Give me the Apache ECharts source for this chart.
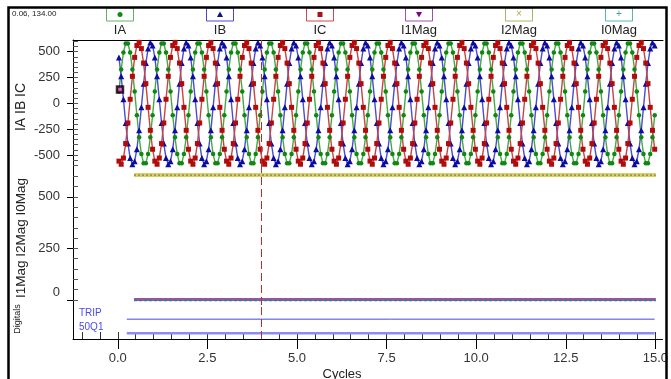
<!DOCTYPE html>
<html>
<head>
<meta charset="utf-8">
<script src="https://cdn.jsdelivr.net/npm/echarts@6/dist/echarts.min.js"></script>
<style>
html, body { margin: 0; padding: 0; background: #fff; }
#chart { width: 671px; height: 379px; }
</style>
</head>
<body>
<div id="chart"></div>
<script>
// 16 samples per cycle, first sample half a sample after t = 0
var SAMPLES_PER_CYCLE = 16;
var SAMPLE_OFFSET = 0.5;

// one row = one cycle
var IA = [
  115,328,491,579,579,491,328,115,-115,-328,-491,-579,-579,-491,-328,-115,
  115,328,491,579,579,491,328,115,-115,-328,-491,-579,-579,-491,-328,-115,
  115,328,491,579,579,491,328,115,-115,-328,-491,-579,-579,-491,-328,-115,
  115,328,491,579,579,491,328,115,-115,-328,-491,-579,-579,-491,-328,-115,
  115,328,491,579,579,491,328,115,-115,-328,-491,-579,-579,-491,-328,-115,
  115,328,491,579,579,491,328,115,-115,-328,-491,-579,-579,-491,-328,-115,
  115,328,491,579,579,491,328,115,-115,-328,-491,-579,-579,-491,-328,-115,
  115,328,491,579,579,491,328,115,-115,-328,-491,-579,-579,-491,-328,-115,
  115,328,491,579,579,491,328,115,-115,-328,-491,-579,-579,-491,-328,-115,
  115,328,491,579,579,491,328,115,-115,-328,-491,-579,-579,-491,-328,-115,
  115,328,491,579,579,491,328,115,-115,-328,-491,-579,-579,-491,-328,-115,
  115,328,491,579,579,491,328,115,-115,-328,-491,-579,-579,-491,-328,-115,
  115,328,491,579,579,491,328,115,-115,-328,-491,-579,-579,-491,-328,-115,
  115,328,491,579,579,491,328,115,-115,-328,-491,-579,-579,-491,-328,-115,
  115,328,491,579,579,491,328,115,-115,-328,-491,-579,-579,-491,-328,-115
];
var IB = [
  444,261,39,-190,-389,-529,-589,-559,-444,-261,-39,190,389,529,589,559,
  444,261,39,-190,-389,-529,-589,-559,-444,-261,-39,190,389,529,589,559,
  444,261,39,-190,-389,-529,-589,-559,-444,-261,-39,190,389,529,589,559,
  444,261,39,-190,-389,-529,-589,-559,-444,-261,-39,190,389,529,589,559,
  444,261,39,-190,-389,-529,-589,-559,-444,-261,-39,190,389,529,589,559,
  444,261,39,-190,-389,-529,-589,-559,-444,-261,-39,190,389,529,589,559,
  444,261,39,-190,-389,-529,-589,-559,-444,-261,-39,190,389,529,589,559,
  444,261,39,-190,-389,-529,-589,-559,-444,-261,-39,190,389,529,589,559,
  444,261,39,-190,-389,-529,-589,-559,-444,-261,-39,190,389,529,589,559,
  444,261,39,-190,-389,-529,-589,-559,-444,-261,-39,190,389,529,589,559,
  444,261,39,-190,-389,-529,-589,-559,-444,-261,-39,190,389,529,589,559,
  444,261,39,-190,-389,-529,-589,-559,-444,-261,-39,190,389,529,589,559,
  444,261,39,-190,-389,-529,-589,-559,-444,-261,-39,190,389,529,589,559,
  444,261,39,-190,-389,-529,-589,-559,-444,-261,-39,190,389,529,589,559,
  444,261,39,-190,-389,-529,-589,-559,-444,-261,-39,190,389,529,589,559
];
var IC = [
  -559,-589,-529,-389,-190,39,261,444,559,589,529,389,190,-39,-261,-444,
  -559,-589,-529,-389,-190,39,261,444,559,589,529,389,190,-39,-261,-444,
  -559,-589,-529,-389,-190,39,261,444,559,589,529,389,190,-39,-261,-444,
  -559,-589,-529,-389,-190,39,261,444,559,589,529,389,190,-39,-261,-444,
  -559,-589,-529,-389,-190,39,261,444,559,589,529,389,190,-39,-261,-444,
  -559,-589,-529,-389,-190,39,261,444,559,589,529,389,190,-39,-261,-444,
  -559,-589,-529,-389,-190,39,261,444,559,589,529,389,190,-39,-261,-444,
  -559,-589,-529,-389,-190,39,261,444,559,589,529,389,190,-39,-261,-444,
  -559,-589,-529,-389,-190,39,261,444,559,589,529,389,190,-39,-261,-444,
  -559,-589,-529,-389,-190,39,261,444,559,589,529,389,190,-39,-261,-444,
  -559,-589,-529,-389,-190,39,261,444,559,589,529,389,190,-39,-261,-444,
  -559,-589,-529,-389,-190,39,261,444,559,589,529,389,190,-39,-261,-444,
  -559,-589,-529,-389,-190,39,261,444,559,589,529,389,190,-39,-261,-444,
  -559,-589,-529,-389,-190,39,261,444,559,589,529,389,190,-39,-261,-444,
  -559,-589,-529,-389,-190,39,261,444,559,589,529,389,190,-39,-261,-444
];

// magnitudes (start / end)
var MAG_T = [0.45, 15.0];
var I1MAG = [3, 3];
var I2MAG = [605, 605];
var I0MAG = [-2, -2];

// digitals, both low for the whole record
var DIG_T = [0.25, 14.98];
var TRIP = [0, 0];
var Q50 = [0, 0];
var DIG_NAMES = ['TRIP', '50Q1'];

var CURSOR_T = 4.0;
var CURSOR_PT = [0.06, 134];

var X_TICKS = [0, 2.5, 5, 7.5, 10, 12.5, 15];
var X_MINOR = [-1,-0.5,0,0.5,1,1.5,2,2.5,3,3.5,4,4.5,5,5.5,6,6.5,7,7.5,8,8.5,9,9.5,10,10.5,11,11.5,12,12.5,13,13.5,14,14.5,15];
var TOP_TICKS = [-500, -250, 0, 250, 500];
var TOP_MINOR = [-600,-550,-500,-450,-400,-350,-300,-250,-200,-150,-100,-50,0,50,100,150,200,250,300,350,400,450,500,550,600];
var MAG_TICKS = [0, 250, 500];
var MAG_MINOR = [0,50,100,150,200,250,300,350,400,450,500,550,600,650];

var FONT = '"Liberation Sans", Arial, sans-serif';

function withTime(values) {
  return values.map(function (v, i) {
    return [(i + SAMPLE_OFFSET) / SAMPLES_PER_CYCLE, v];
  });
}
function pairs(ts, vs) {
  return ts.map(function (t, i) { return [t, vs[i]]; });
}
// digital rows: each channel gets its own baseline
function digRow(ts, vs, row) {
  return ts.map(function (t, i) { return [t, row + vs[i] * 0.8]; });
}

var XMIN = -1.25, XMAX = 15.2;

var myChart = echarts.init(document.getElementById('chart'));

function xHidden(g) {
  return { gridIndex: g, type: 'value', min: XMIN, max: XMAX, show: false };
}
function yMinor(g, min, max, vals) {
  return {
    gridIndex: g, type: 'value', min: min, max: max, position: 'left',
    axisLine: { show: false, onZero: false },
    axisTick: { show: true, customValues: vals, inside: true, length: 5, lineStyle: { color: '#555' } },
    axisLabel: { show: false }, splitLine: { show: false }
  };
}
function yMajor(g, min, max, vals, fmt) {
  return {
    gridIndex: g, type: 'value', min: min, max: max, position: 'left',
    axisLine: { show: true, onZero: false, lineStyle: { color: '#000', width: 1 } },
    axisTick: { show: true, customValues: vals, length: 6, lineStyle: { color: '#000' } },
    axisLabel: {
      customValues: vals, margin: 13, fontSize: 13, color: '#333', fontFamily: FONT,
      formatter: fmt,
      rich: { z: { fontSize: 13, color: '#333', fontFamily: FONT, padding: [0, 0, 16, 0] } }
    },
    splitLine: { show: false }
  };
}

var cursorLine = {
  silent: true, symbol: ['none', 'none'], label: { show: false },
  lineStyle: { color: '#b03030', type: [8, 4], width: 1 },
  data: [{ xAxis: CURSOR_T }]
};

// legend drawn as boxes with the symbol inside and the name below
var LEG_NAMES = ['IA', 'IB', 'IC', 'I1Mag', 'I2Mag', 'I0Mag'];
var LEG_BOX = ['#5cb85c', '#4a4ac8', '#c84a4a', '#a050a8', '#b4b060', '#5ab4b4'];
var LEG_SYM = ['#128a12', '#10108a', '#b01010', '#800080', '#b0a850', '#40a0a0'];
var LEG_X = [120, 220, 320, 419, 519, 619];

var graphics = [
  { type: 'rect', shape: { x: 8.5, y: 7.5, width: 658, height: 420 }, style: { fill: 'none', stroke: '#000', lineWidth: 2.5 }, z: 100 },
  { type: 'text', x: 12, y: 13.5, style: { text: '0.06, 134.00', fill: '#222', font: '8px ' + FONT, textVerticalAlign: 'middle' } },
  { type: 'text', x: 21, y: 107, rotation: Math.PI / 2, style: { text: 'IA IB IC', fill: '#222', font: '14px ' + FONT, textAlign: 'center', textVerticalAlign: 'middle' } },
  { type: 'text', x: 21, y: 238, rotation: Math.PI / 2, style: { text: 'I1Mag I2Mag I0Mag', fill: '#222', font: '13.5px ' + FONT, textAlign: 'center', textVerticalAlign: 'middle' } },
  { type: 'text', x: 18, y: 319, rotation: Math.PI / 2, style: { text: 'Digitals', fill: '#222', font: '9px ' + FONT, textAlign: 'center', textVerticalAlign: 'middle' } },
  { type: 'text', x: 79, y: 313.5, style: { text: DIG_NAMES[0], fill: '#4a4ae8', font: '10px ' + FONT, textVerticalAlign: 'middle' } },
  { type: 'text', x: 79, y: 327, style: { text: DIG_NAMES[1], fill: '#4a4ae8', font: '10px ' + FONT, textVerticalAlign: 'middle' } },
  { type: 'text', x: 342, y: 374, style: { text: 'Cycles', fill: '#222', font: '13px ' + FONT, textAlign: 'center', textVerticalAlign: 'middle' } }
];
LEG_NAMES.forEach(function (n, i) {
  var cx = LEG_X[i], cy = 14.5, c = LEG_SYM[i], sym;
  graphics.push({ type: 'rect', shape: { x: cx - 13.5, y: 8, width: 27, height: 13 }, style: { fill: '#fff', stroke: LEG_BOX[i], lineWidth: 1 } });
  if (i === 0) sym = { type: 'circle', shape: { cx: cx, cy: cy, r: 2.5 }, style: { fill: c } };
  else if (i === 1) sym = { type: 'polygon', shape: { points: [[cx, cy - 3], [cx + 3, cy + 2.5], [cx - 3, cy + 2.5]] }, style: { fill: c } };
  else if (i === 2) sym = { type: 'rect', shape: { x: cx - 2.5, y: cy - 2.5, width: 5, height: 5 }, style: { fill: c } };
  else if (i === 3) sym = { type: 'polygon', shape: { points: [[cx - 3, cy - 2.5], [cx + 3, cy - 2.5], [cx, cy + 3]] }, style: { fill: c } };
  else if (i === 4) sym = { type: 'text', x: cx, y: cy, style: { text: '×', fill: c, font: '10px ' + FONT, textAlign: 'center', textVerticalAlign: 'middle' } };
  else sym = { type: 'text', x: cx, y: cy, style: { text: '+', fill: c, font: '10px ' + FONT, textAlign: 'center', textVerticalAlign: 'middle' } };
  graphics.push(sym);
  graphics.push({ type: 'text', x: cx, y: 30.5, style: { text: n, fill: '#222', font: '13px ' + FONT, textAlign: 'center', textVerticalAlign: 'middle' } });
});

var option = {
  animation: false,
  grid: [
    { left: 73, right: 8, top: 40, height: 126 },
    { left: 73, right: 8, top: 166, height: 139 },
    { left: 73, right: 8, top: 305, height: 34 }
  ],
  xAxis: [
    {
      gridIndex: 0, type: 'value', min: XMIN, max: XMAX, position: 'top',
      axisLine: { show: true, onZero: false, lineStyle: { color: '#000', width: 1 } },
      axisTick: { show: false }, axisLabel: { show: false }, splitLine: { show: false }
    },
    xHidden(1),
    {
      gridIndex: 2, type: 'value', min: XMIN, max: XMAX, position: 'bottom',
      axisLine: { show: true, onZero: false, lineStyle: { color: '#000', width: 1 } },
      axisTick: { show: true, customValues: X_TICKS, length: 10, lineStyle: { color: '#000' } },
      axisLabel: {
        customValues: X_TICKS, margin: 13, fontSize: 13, color: '#333', fontFamily: FONT,
        formatter: function (v) { return v.toFixed(1); }
      },
      splitLine: { show: false }
    },
    {
      gridIndex: 2, type: 'value', min: XMIN, max: XMAX, position: 'bottom',
      axisLine: { show: false, onZero: false },
      axisTick: { show: true, customValues: X_MINOR, inside: true, length: 7, lineStyle: { color: '#333' } },
      axisLabel: { show: false }, splitLine: { show: false }
    }
  ],
  yAxis: [
    yMajor(0, -606, 612, TOP_TICKS),
    yMinor(0, -606, 612, TOP_MINOR),
    yMajor(1, -24, 649, MAG_TICKS, function (v) { return v === 0 ? '{z|0}' : String(v); }),
    yMinor(1, -24, 649, MAG_MINOR),
    {
      gridIndex: 2, type: 'value', min: -0.4, max: 2.0, position: 'left',
      axisLine: { show: true, onZero: false, lineStyle: { color: '#000', width: 1 } },
      axisTick: { show: false }, axisLabel: { show: false }, splitLine: { show: false }
    }
  ],
  graphic: graphics,
  series: [
    {
      name: 'IA', type: 'line', xAxisIndex: 0, yAxisIndex: 0, data: withTime(IA),
      symbol: 'circle', symbolSize: 4.5, showSymbol: true, showAllSymbol: true, clip: false,
      lineStyle: { color: '#44aa44', width: 1.4 }, itemStyle: { color: '#0f880f' },
      markLine: cursorLine
    },
    {
      name: 'IB', type: 'line', xAxisIndex: 0, yAxisIndex: 0, data: withTime(IB),
      symbol: 'triangle', symbolSize: 6, showSymbol: true, showAllSymbol: true, clip: false,
      lineStyle: { color: '#4c4cd0', width: 1.4 }, itemStyle: { color: '#0c0ca0' }
    },
    {
      name: 'IC', type: 'line', xAxisIndex: 0, yAxisIndex: 0, data: withTime(IC),
      symbol: 'rect', symbolSize: 5, showSymbol: true, showAllSymbol: true, clip: false,
      lineStyle: { color: '#c84444', width: 1.4 }, itemStyle: { color: '#b00c0c' }
    },
    {
      name: 'CURSOR', type: 'scatter', xAxisIndex: 0, yAxisIndex: 0, data: [CURSOR_PT],
      symbol: 'rect', symbolSize: 6, z: 10,
      itemStyle: { color: '#ff44dd', borderColor: '#000', borderWidth: 2.5 }
    },
    {
      name: 'I2Mag', type: 'line', xAxisIndex: 1, yAxisIndex: 2, data: pairs(MAG_T, I2MAG),
      symbol: 'none', lineStyle: { color: '#d6d070', width: 4 }, markLine: cursorLine
    },
    {
      name: 'I2Mag', type: 'line', xAxisIndex: 1, yAxisIndex: 2, data: pairs(MAG_T, I2MAG),
      symbol: 'none', lineStyle: { color: '#8a8228', width: 1.2, type: [2, 2] }
    },
    {
      name: 'I1Mag', type: 'line', xAxisIndex: 1, yAxisIndex: 2, data: pairs(MAG_T, I1MAG),
      symbol: 'none', lineStyle: { color: '#a050a0', width: 3 }
    },
    {
      name: 'I0Mag', type: 'line', xAxisIndex: 1, yAxisIndex: 2, data: pairs(MAG_T, I0MAG),
      symbol: 'none', lineStyle: { color: '#208888', width: 1.5, type: [3, 2] }
    },
    {
      name: 'TRIP', type: 'line', xAxisIndex: 2, yAxisIndex: 4, data: digRow(DIG_T, TRIP, 1),
      symbol: 'none', lineStyle: { color: '#4848e0', width: 1 }, markLine: cursorLine
    },
    {
      name: '50Q1', type: 'line', xAxisIndex: 2, yAxisIndex: 4, data: digRow(DIG_T, Q50, 0),
      symbol: 'none', lineStyle: { color: '#8c8cf0', width: 2.5 }
    }
  ]
};

myChart.setOption(option);
</script>
</body>
</html>
